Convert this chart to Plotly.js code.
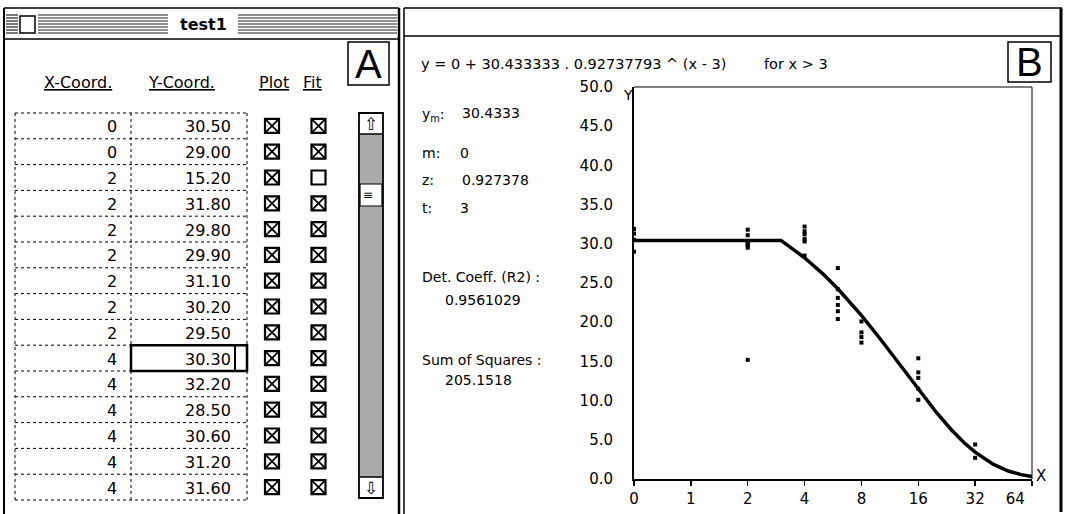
<!DOCTYPE html>
<html><head><meta charset="utf-8">
<script src="https://cdn.plot.ly/plotly-3.0.1.min.js"></script>
<style>html,body{margin:0;padding:0;background:#fff;overflow:hidden}#chart{width:1067px;height:514px}</style>
</head><body><div id="chart"></div>
<script>
// ---------------- data ----------------
const xCoord = [0, 0, 0, 0, 2, 2, 2, 2, 2, 2, 2, 4, 4, 4, 4, 4, 4, 6, 6, 6, 6, 6, 6, 8, 8, 8, 8, 16, 16, 16, 16, 16, 32, 32];
const yCoord = [31.9, 31.3, 30.50, 29.00, 15.20, 31.80, 29.80, 29.90, 31.10, 30.20, 29.50, 30.30, 32.20, 28.50, 30.60, 31.20, 31.60,
                26.9, 24.2, 23.1, 22.2, 21.4, 20.4, 20.1, 18.7, 18.1, 17.4, 15.4, 13.6, 12.9, 11.5, 10.1, 4.4, 2.7];
const plotFlag = [1,1,1,1,1,1,1,1,1,1,1,1,1,1,1,1,1,1,1,1,1,1,1,1,1,1,1,1,1,1,1,1,1,1];
const fitFlag  = [1,1,1,1,0,1,1,1,1,1,1,1,1,1,1,1,1,1,1,1,1,1,1,1,1,1,1,1,1,1,1,1,1,1];
const firstVisibleRow = 2;
const visibleRowCount = 15;
const selectedVisibleRow = 9;

const columnHeaders = ["X-Coord.", "Y-Coord.", "Plot", "Fit"];
const windowTitle = "test1";

// fitted curve, as drawn in panel B
const fitX = [0, 1, 2, 3, 4, 5, 6, 7, 8, 10, 12, 14, 16, 20, 24, 28, 32, 40, 48, 56, 64];
const fitY = [30.43, 30.43, 30.43, 30.43, 28.22, 26.17, 24.27, 22.51, 20.88, 17.95, 15.44, 13.28, 11.42, 8.45, 6.25, 4.62, 3.42, 1.87, 1.02, 0.56, 0.31];

const xTickValues = [0, 1, 2, 4, 8, 16, 32, 64];
const xTickLabels = ["0", "1", "2", "4", "8", "16", "32", "64"];
const yTickValues = [0, 5, 10, 15, 20, 25, 30, 35, 40, 45, 50];
const yTickLabels = ["0.0", "5.0", "10.0", "15.0", "20.0", "25.0", "30.0", "35.0", "40.0", "45.0", "50.0"];

const paramYm = "30.4333", paramM = "0", paramZ = "0.927378", paramT = "3";
const eqYm = "30.433333", eqZ = "0.92737793";
const detCoeff = "0.9561029";
const sumSquares = "205.1518";

// ---------------- helpers ----------------
const W = 1067, H = 514;
const px = x => x / W;
const py = y => 1 - y / H;
// the reference's x axis puts 0 one doubling step left of 1
const axisX = x => (x === 0 ? 0.5 : x);

const shapes = [];
function line(x0, y0, x1, y1, w, dash, color) {
  shapes.push({type: 'line', xref: 'paper', yref: 'paper', x0: px(x0), y0: py(y0), x1: px(x1), y1: py(y1),
    line: {color: color || '#000', width: w || 1, dash: dash || 'solid'}});
}
function rect(x0, y0, x1, y1, w, fill) {
  shapes.push({type: 'rect', xref: 'paper', yref: 'paper', x0: px(x0), y0: py(y0), x1: px(x1), y1: py(y1),
    line: {color: '#000', width: w}, fillcolor: fill || 'rgba(0,0,0,0)'});
}
const annotations = [];
function txt(x, y, text, size, xa, extra) {
  annotations.push(Object.assign({xref: 'paper', yref: 'paper', x: px(x), y: py(y), text: text, showarrow: false,
    xanchor: xa || 'left', yanchor: 'middle', borderpad: 0,
    font: {size: size || 14, color: '#000', family: 'DejaVu Sans'}}, extra || {}));
}

// ---------------- window frames ----------------
// left window (A)
line(4, 8, 4, 514, 2);
line(4, 8, 399, 8, 1.5);
line(4, 39, 399, 39, 1.5);
line(399, 8, 399, 514, 2.5);
// title bar stripes
[15, 18, 21, 24, 27, 30, 33].forEach(y => {
  line(6, y, 18, y, 1.2, 'solid', '#222');
  line(38, y, 168, y, 1.2, 'solid', '#222');
  line(238, y, 397, y, 1.2, 'solid', '#222');
});
rect(20, 16, 35, 33, 1.5, '#fff');
txt(203, 24, '<b>' + windowTitle + '</b>', 16, 'center');
// A box
rect(348, 42, 389, 85, 1.5, '#fff');
txt(368.5, 64, 'A', 40, 'center', {font: {size: 40, family: 'Liberation Sans', color: '#000'}});

// right window (B)
line(404, 8, 404, 514, 1.5);
line(404, 8, 1062, 8, 1.5);
line(404, 36, 1062, 36, 1.5);
line(1061, 8, 1061, 512, 3);
rect(1008, 42, 1051, 82, 1.5, '#fff');
txt(1029.5, 62, 'B', 40, 'center', {font: {size: 40, family: 'Liberation Sans', color: '#000'}});

// ---------------- table (panel A) ----------------
const tblTop = 113, rowH = 25.8;
const colX = [118, 232];
txt(43, 82, '<u>' + columnHeaders[0] + '</u>', 16);
txt(147, 82, '<u>' + columnHeaders[1] + '</u>', 16);
txt(258, 82, '<u>' + columnHeaders[2] + '</u>', 16);
txt(302, 82, '<u>' + columnHeaders[3] + '</u>', 16);

for (let k = 0; k <= visibleRowCount; k++) {
  const y = tblTop + k * rowH;
  line(15, y, 247, y, 1, 'dot');
}
[15, 131, 247].forEach(x => line(x, tblTop, x, tblTop + visibleRowCount * rowH, 1, 'dot'));

for (let v = 0; v < visibleRowCount; v++) {
  const i = firstVisibleRow + v;
  const cy = tblTop + rowH * (v + 0.5);
  txt(colX[0], cy + 1, String(xCoord[i]), 16, 'right');
  txt(colX[1], cy + 1, yCoord[i].toFixed(2), 16, 'right');
  [[272, plotFlag[i]], [318.5, fitFlag[i]]].forEach(([cx, on]) => {
    rect(cx - 7, cy - 7, cx + 7, cy + 7, 2.2, '#fff');
    if (on) {
      line(cx - 6.5, cy - 6.5, cx + 6.5, cy + 6.5, 1.8);
      line(cx - 6.5, cy + 6.5, cx + 6.5, cy - 6.5, 1.8);
    }
  });
}
// selected cell
{
  const y0 = tblTop + rowH * selectedVisibleRow, y1 = y0 + rowH;
  rect(131, y0, 247, y1, 2.5);
  line(235, y0, 235, y1, 2);
}
// scrollbar
shapes.push({type: 'rect', xref: 'paper', yref: 'paper', x0: px(360), y0: py(134), x1: px(382), y1: py(477),
  line: {width: 0}, fillcolor: '#aaaaaa'});
rect(360, 184, 382, 206, 1.2, '#fff');
rect(359, 113, 383, 498, 1.8);
line(359, 134, 383, 134, 1.5);
line(359, 477, 383, 477, 1.5);
txt(371, 123.5, '⇧', 16, 'center', {font: {size: 17, family: 'DejaVu Sans', color: '#000'}});
txt(371, 487.5, '⇩', 16, 'center', {font: {size: 17, family: 'DejaVu Sans', color: '#000'}});
txt(367.5, 195, '≡', 12, 'center');

// ---------------- texts of panel B ----------------
txt(420, 64, 'y = ' + paramM + ' + ' + eqYm + ' . ' + eqZ + ' ^ (x - ' + paramT + ')', 14.5);
txt(763, 64, 'for x &gt; ' + paramT, 14.5);
txt(421, 115, 'y<sub>m</sub>:', 14);
txt(461, 113, paramYm, 14);
txt(421, 153, 'm:', 14);
txt(459, 153, paramM, 14);
txt(421, 180, 'z:', 14);
txt(461, 180, paramZ, 14);
txt(421, 208, 't:', 14);
txt(459, 208, paramT, 14);
txt(421, 277, 'Det. Coeff. (R2) :', 14);
txt(444, 300, detCoeff, 14);
txt(421, 360, 'Sum of Squares :', 14);
txt(444, 380, sumSquares, 14);
txt(628, 95, 'Y', 14, 'center');
txt(1041, 476, 'X', 15, 'center');

// plot frame top / right
line(634, 87, 1032, 87, 1);
line(1032, 87, 1032, 479, 1);

// ---------------- traces ----------------
const pts = {x: [], y: []};
xCoord.forEach((x, i) => { if (plotFlag[i]) { pts.x.push(axisX(x)); pts.y.push(yCoord[i]); } });

const traces = [
  {type: 'scatter', mode: 'lines', x: fitX.map(axisX), y: fitY, line: {color: '#000', width: 3.5}, hoverinfo: 'skip', cliponaxis: false},
  {type: 'scatter', mode: 'markers', x: pts.x, y: pts.y, marker: {symbol: 'square', size: 4, color: '#000', line: {width: 0}}, cliponaxis: false}
];

const layout = {
  width: W, height: H,
  margin: {l: 0, r: 0, t: 0, b: 0},
  paper_bgcolor: '#fff', plot_bgcolor: '#fff',
  showlegend: false,
  font: {family: 'DejaVu Sans', color: '#000'},
  xaxis: {
    type: 'log', domain: [px(634), px(1032)],
    range: [Math.log10(0.5), Math.log10(64)],
    tickmode: 'array', tickvals: xTickValues.map(axisX),
    ticktext: xTickLabels.map((t, i) => i === xTickLabels.length - 1 ? t + '&nbsp;&nbsp;&nbsp;&nbsp;&nbsp;&nbsp;&nbsp;' : t),
    ticks: 'outside', ticklen: 5, tickwidth: 1.5, tickcolor: '#000',
    tickfont: {size: 15, family: 'DejaVu Sans', color: '#000'},
    showline: true, linecolor: '#000', linewidth: 2,
    showgrid: false, zeroline: false, fixedrange: true
  },
  yaxis: {
    domain: [py(479), py(87)], range: [0, 50],
    tickmode: 'array', tickvals: yTickValues, ticktext: yTickLabels,
    ticks: 'outside', ticklen: 16, tickcolor: 'rgba(0,0,0,0)',
    tickfont: {size: 15, family: 'DejaVu Sans', color: '#000'},
    showline: true, linecolor: '#000', linewidth: 2,
    showgrid: false, zeroline: false, fixedrange: true
  },
  shapes: shapes,
  annotations: annotations
};

Plotly.newPlot('chart', traces, layout, {staticPlot: true, displayModeBar: false});
</script>
</body></html>
